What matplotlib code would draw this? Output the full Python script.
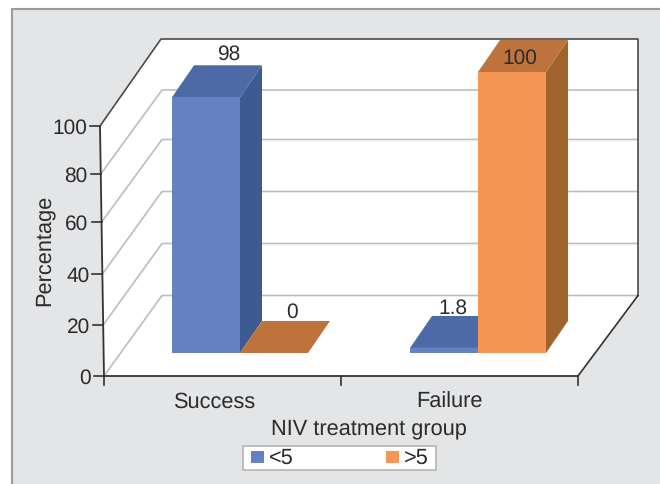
import matplotlib
matplotlib.use('Agg')
import matplotlib.pyplot as plt
from matplotlib.patches import Polygon, Rectangle
import numpy as np

plt.rcParams['font.family'] = ['Liberation Sans', 'DejaVu Sans']
plt.rcParams['text.hinting'] = 'none'

categories = ['Success', 'Failure']
series_names = ['<5', '>5']
labels_lt5 = ['98', '1.8']
labels_gt5 = ['0', '100']
# heights as drawn, the picture is not to scale with its own labels
heights_lt5 = [91, 1.8]
heights_gt5 = [0, 100]
y_ticks = [0, 20, 40, 60, 80, 100]

# layout, pixels
W, H = 660, 484
front_y = [376, 325, 274, 222, 174, 126]
back_y = [295.5, 243.5, 191.5, 139.5, 90, 39]
front_x0, front_x1 = 104, 578
back_x0, back_x1 = 162, 638
floor_y = 353
bar_w = 68
dx, dy = 22, -32
px_per_unit = 2.81
INK = '#2b2b2b'
FS = 15
FS_WORDS = 15.7

colors_lt5 = ('#6582C0', '#4D6AA6', '#3D5B92')
colors_gt5 = ('#F49754', '#BE733C', '#A0632D')

group_left = [172, 410]
cat_x = [214, 449]
# label placement, as offset from the left edge of the bar and the y centre
lt5_label_x = [57, 43]
lt5_label_y = [54, 308]
gt5_label_x = [52, 42]
gt5_label_y = [312, 58]


def front_x(v):
    # the front axis leans a little to the left going up
    return np.interp(v, [0, 100], [front_x0, 100])


def draw_bar(left, value, cols, z):
    top = floor_y - value * px_per_unit
    right = left + bar_w
    ax.add_patch(Polygon([(right, floor_y), (right + dx, floor_y + dy), (right + dx, top + dy), (right, top)],
                         fc=cols[2], ec='none', zorder=z))
    ax.add_patch(Polygon([(left, top), (right, top), (right + dx, top + dy), (left + dx, top + dy)],
                         fc=cols[1], ec='none', zorder=z))
    ax.add_patch(Rectangle((left, top), bar_w, floor_y - top, fc=cols[0], ec='none', zorder=z + 0.1))


fig = plt.figure(figsize=(W / 100, H / 100), dpi=100, facecolor='white')
ax = fig.add_axes([0, 0, 1, 1])
ax.set_xlim(0, W)
ax.set_ylim(H, 0)
ax.axis('off')

# gray panel
ax.add_patch(Rectangle((12, 9), W, H, fc='#E4E5E7', ec='#9A9A9C', lw=1.5, zorder=0))

# plot box
ax.add_patch(Polygon([(100, 126), (back_x0 - 1, 39), (back_x1, 39), (back_x1, back_y[0]), (front_x1, 376), (front_x0, 376)],
                     fc='white', ec='none', zorder=1))

# grid
for i, v in enumerate(y_ticks[:-1]):
    ax.plot([front_x(v), back_x0, back_x1], [front_y[i], back_y[i], back_y[i]], color='#BDBDBD', lw=1.2, zorder=2)

# axis lines
ax.plot([100, back_x0 - 1, back_x1, back_x1], [126, 39, 39, back_y[0]], color='#4a4a4a', lw=1.2, zorder=3)
ax.plot([back_x1, front_x1], [back_y[0], 376], color='#333333', lw=1.2, zorder=3)
ax.plot([100, front_x0, front_x1], [126, 376, 376], color='#333333', lw=1.3, zorder=3)

for i, v in enumerate(y_ticks):
    x = front_x(v)
    ax.plot([x - 10, x], [front_y[i], front_y[i]], color='#333333', lw=1.2, zorder=3)
    ax.text(x - 13, front_y[i] + 2, str(v), ha='right', va='center', fontsize=FS, color=INK)

step = (front_x1 - front_x0) / len(categories)
for i in range(len(categories) + 1):
    x = front_x0 + i * step
    ax.plot([x, x], [376, 385], color='#333333', lw=1.2, zorder=3)

# bars
for i, cat in enumerate(categories):
    left = group_left[i]
    draw_bar(left, heights_lt5[i], colors_lt5, 5 + i)
    draw_bar(left + bar_w, heights_gt5[i], colors_gt5, 5 + i + 0.5)
    ax.text(left + lt5_label_x[i], lt5_label_y[i], labels_lt5[i], ha='center', va='center',
            fontsize=FS, color=INK, zorder=9)
    ax.text(left + bar_w + gt5_label_x[i], gt5_label_y[i], labels_gt5[i], ha='center', va='center',
            fontsize=FS, color=INK, zorder=9)
    ax.text(cat_x[i], 402, cat, ha='center', va='center', fontsize=FS_WORDS, color=INK)

ax.text(369, 429, 'NIV treatment group', ha='center', va='center', fontsize=FS_WORDS, color=INK)
ax.text(44, 250, 'Percentage', rotation=90, ha='center', va='center', fontsize=FS_WORDS, color=INK)

# legend
ax.add_patch(Rectangle((242.5, 445.5), 193, 24, fc='white', ec='#B5B5B5', lw=1.2, zorder=4))
for name, col, x in zip(series_names, [colors_lt5[0], colors_gt5[0]], [251, 386]):
    ax.add_patch(Rectangle((x, 451), 13, 12, fc=col, ec='none', zorder=5))
    ax.text(x + 18, 458.5, name, ha='left', va='center', fontsize=FS_WORDS, color=INK, zorder=5)

fig.savefig('out.png', dpi=100)
